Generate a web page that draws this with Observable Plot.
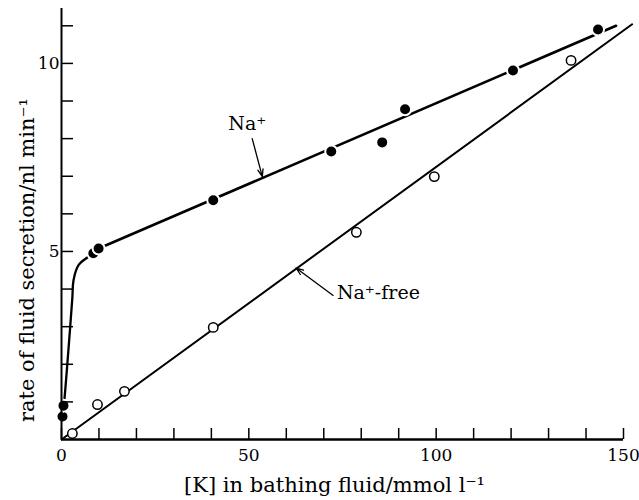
<!DOCTYPE html>
<html>
<head>
<meta charset="utf-8">
<script src="https://cdn.jsdelivr.net/npm/d3@7"></script>
<script src="https://cdn.jsdelivr.net/npm/@observablehq/plot@0.6"></script>
<style>
  html, body { margin: 0; padding: 0; background: #fff; }
  svg { display: block; }
</style>
</head>
<body>
<div id="chart"></div>
<script>
// Filled circles: Na+ present
const naK    = [0.27, 0.53, 8.5, 9.9, 40.5, 72, 85.6, 91.7, 120.5, 143.2];
const naRate = [0.61, 0.90, 4.95, 5.08, 6.36, 7.66, 7.90, 8.78, 9.81, 10.90];
// Open circles: Na+-free
const freeK    = [2.9, 9.6, 16.8, 40.5, 78.7, 99.5, 136];
const freeRate = [0.16, 0.93, 1.28, 2.98, 5.51, 6.99, 10.08];
// Hand-drawn fitted curve for Na+ (rising part) and its straight part
const naCurveK    = [0.27, 0.8, 1.9, 2.9, 3.2, 4.5, 6.9, 8.5, 9.9];
const naCurveRate = [0.61, 1.09, 2.45, 3.78, 4.23, 4.63, 4.84, 4.95, 5.08];
const naLineK     = [9.9, 148];
const naLineRate  = [5.08, 11.0];
// Fitted straight line for Na+-free
const freeLineK    = [0, 152.3];
const freeLineRate = [0, 11.04];
// Axis ticks
const xTicks = d3.range(0, 151, 10);
const xLabels = [0, 50, 100, 150];
const yTicks = d3.range(1, 12, 1);
const yLabels = [5, 10];
// Annotations
const naLabel = [{text: "Na\u207A", x: 49.6, y: 8.38}];
const freeLabel = [{text: "Na\u207A-free", x: 73.5, y: 3.9}];
const arrows = [
  {x1: 50.9, y1: 8.0, x2: 53.6, y2: 6.99},
  {x1: 72.5, y1: 3.83, x2: 62.6, y2: 4.56}
];
const xTitle = "[K] in bathing fluid/mmol l\u207B\u00B9";
const yTitle = "rate of fluid secretion/nl min\u207B\u00B9";

const na = naK.map((k, i) => ({k, r: naRate[i]}));
const free = freeK.map((k, i) => ({k, r: freeRate[i]}));
const naCurve = naCurveK.map((k, i) => ({k, r: naCurveRate[i]}));
const naLine = naLineK.map((k, i) => ({k, r: naLineRate[i]}));
const freeLine = freeLineK.map((k, i) => ({k, r: freeLineRate[i]}));

const chart = Plot.plot({
  width: 639,
  height: 500,
  marginTop: 8,
  marginBottom: 61,
  marginLeft: 61,
  marginRight: 16,
  style: {fontFamily: "DejaVu Serif", fontSize: "17px", color: "black", background: "white"},
  x: {domain: [0, 150]},
  y: {domain: [0, 11.46]},
  marks: [
    Plot.line(freeLine, {x: "k", y: "r", stroke: "black", strokeWidth: 2}),
    Plot.line(naCurve, {x: "k", y: "r", stroke: "black", strokeWidth: 2.3, curve: "catmull-rom"}),
    Plot.line(naLine, {x: "k", y: "r", stroke: "black", strokeWidth: 2.6}),
    Plot.dot(na, {x: "k", y: "r", r: 6, fill: "black", stroke: "white", strokeWidth: 2}),
    Plot.dot(free, {x: "k", y: "r", r: 4.7, fill: "white", stroke: "black", strokeWidth: 1.5}),
    Plot.arrow(arrows, {x1: "x1", y1: "y1", x2: "x2", y2: "y2", stroke: "black", strokeWidth: 1.3, headLength: 9, headAngle: 40}),
    Plot.text(naLabel, {x: "x", y: "y", text: "text", textAnchor: "middle", fontSize: 19, fill: "black"}),
    Plot.text(freeLabel, {x: "x", y: "y", text: "text", textAnchor: "start", fontSize: 19, fill: "black"}),
    Plot.axisX({ticks: xTicks, tickSize: -11, tickPadding: 20, strokeWidth: 1.5,
      tickFormat: d => xLabels.includes(d) ? String(d) : "", label: null, fontSize: 17}),
    Plot.axisY({ticks: yTicks, tickSize: -12, tickPadding: 14, strokeWidth: 1.5,
      tickFormat: d => yLabels.includes(d) ? String(d) : "", label: null, fontSize: 17}),
    Plot.ruleX([0], {stroke: "black", strokeWidth: 2}),
    Plot.ruleY([0], {stroke: "black", strokeWidth: 2.5}),
    Plot.text([xTitle], {frameAnchor: "bottom", text: d => d, textAnchor: "middle", lineAnchor: "middle", dx: -8, dy: 46, fontSize: 21, fill: "black"}),
    Plot.text([yTitle], {frameAnchor: "left", text: d => d, textAnchor: "middle", lineAnchor: "middle", rotate: -90, dx: -34, dy: 36, fontSize: 21, fill: "black"})
  ]
});
document.getElementById("chart").appendChild(chart);
</script>
</body>
</html>
